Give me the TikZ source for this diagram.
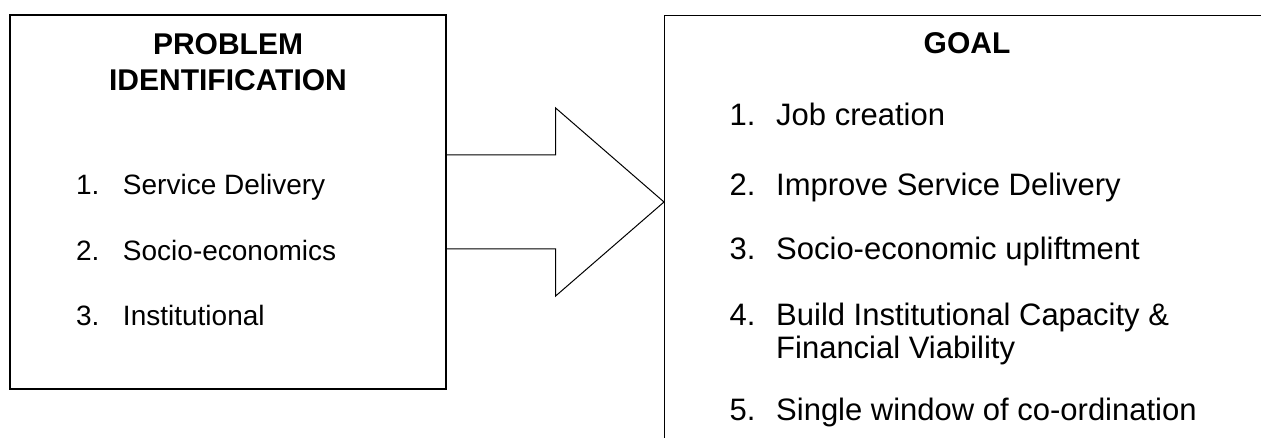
\documentclass[tikz,border=0pt]{standalone}
\usepackage{fontspec}
\setmainfont{Liberation Sans}
\usetikzlibrary{calc,positioning}

\tikzset{
  box/.style={draw, line width=1.3pt, inner sep=0pt},
  heading/.style={font=\fontsize{30}{36.4}\selectfont\bfseries, align=center, anchor=base, inner sep=0pt},
  leftitem/.style={font=\fontsize{28}{32}\selectfont, anchor=base west, inner sep=0pt},
  rightitem/.style={font=\fontsize{31}{32.3}\selectfont, anchor=base west, inner sep=0pt},
  blockarrow/.style={draw, line width=1pt, line join=miter}
}

\begin{document}
\begin{tikzpicture}[x=1pt,y=-1pt]

  \useasboundingbox (0,0) rectangle (1261,438);
  \clip (0,0) rectangle (1261,438);

  % Draw the two boxes
  \node[box, minimum width=436pt, minimum height=374pt] (problem) at (228,202) {};
  \node[box, minimum width=606pt, minimum height=500pt, anchor=north west] (goal) at (664,15) {};

  % Headings (base is the last line of a two line node)
  \node[heading] (problemtitle) at (228,90.7) {PROBLEM\\IDENTIFICATION};
  \node[heading] (goaltitle) at (967,53.5) {GOAL};

  % Problems on the left
  \foreach \n/\txt/\y in {1/Service Delivery/195, 2/Socio-economics/261, 3/Institutional/326} {
    \node[leftitem] (p\n) at (75.8,\y) {\makebox[47pt][l]{\n.}\txt};
  }

  % Goals on the right
  \foreach \n/\txt/\y in {1/Job creation/126, 2/Improve Service Delivery/196,
                          3/Socio-economic upliftment/259.3, 4/Build Institutional Capacity \&/326,
                          5/Single window of co-ordination/420.7} {
    \node[rightitem] (g\n) at (729.5,\y) {\makebox[46.5pt][l]{\n.}\txt};
  }
  \node[rightitem] (g4b) at (776,358.3) {Financial Viability};

  % Draw the block arrow between the boxes
  \coordinate (neck) at ([xshift=109pt]problem.east);
  \coordinate (tip) at (problem.east -| goal.west);
  \draw[blockarrow] ([yshift=47pt]problem.east) -- ([yshift=47pt]neck) -- ([yshift=94pt]neck)
    -- (tip) -- ([yshift=-94pt]neck) -- ([yshift=-47pt]neck) -- ([yshift=-47pt]problem.east);

\end{tikzpicture}
\end{document}
